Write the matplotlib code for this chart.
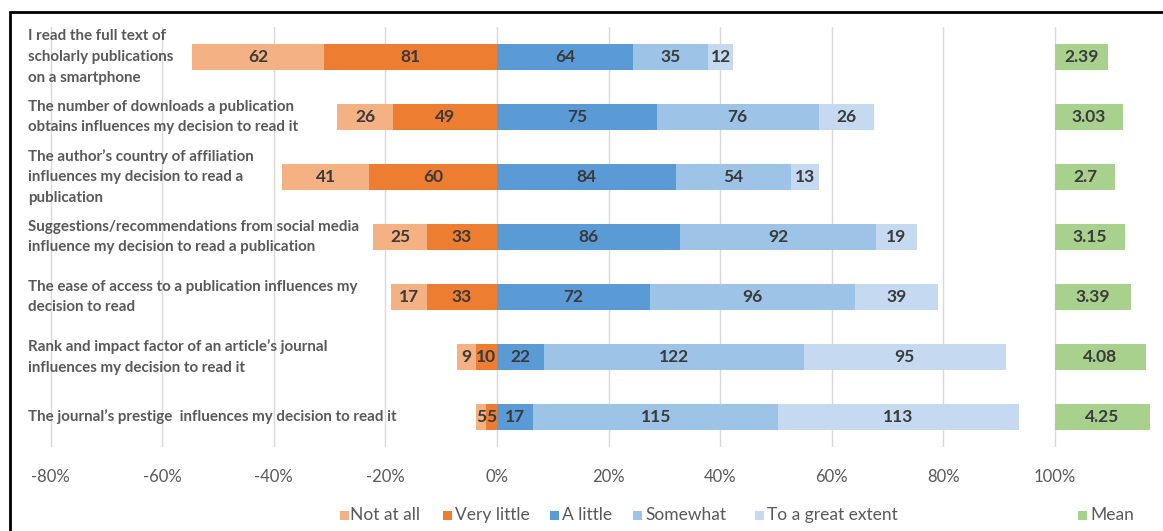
import matplotlib
matplotlib.use("Agg")
import matplotlib.pyplot as plt
from matplotlib.patches import Rectangle
from matplotlib.transforms import blended_transform_factory

plt.rcParams['font.family'] = ['Lato', 'DejaVu Sans']

statements = [
    "I read the full text of\nscholarly publications\non a smartphone",
    "The number of downloads a publication\nobtains influences my decision to read it",
    "The author\u2019s country of affiliation\ninfluences my decision to read a\npublication",
    "Suggestions/recommendations from social media\ninfluence my decision to read a publication",
    "The ease of access to a publication influences my\ndecision to read",
    "Rank and impact factor of an article\u2019s journal\ninfluences my decision to read it",
    "The journal\u2019s prestige  influences my decision to read it",
]
not_at_all = [62, 26, 41, 25, 17, 9, 5]
very_little = [81, 49, 60, 33, 33, 10, 5]
a_little = [64, 75, 84, 86, 72, 22, 17]
somewhat = [35, 76, 54, 92, 96, 122, 115]
great_extent = [12, 26, 13, 19, 39, 95, 113]
means = [2.39, 3.03, 2.7, 3.15, 3.39, 4.08, 4.25]
respondents = 262
tick_values = [-80, -60, -40, -20, 0, 20, 40, 60, 80, 100]

colors = {
    "Not at all": "#F4B183",
    "Very little": "#ED7D31",
    "A little": "#5B9BD5",
    "Somewhat": "#9DC3E6",
    "To a great extent": "#C5DAF0",
    "Mean": "#A9D18E",
}

W, H = 1163, 531
fig = plt.figure(figsize=(W / 100, H / 100), dpi=100)
ax = fig.add_axes([20 / W, 1 - 447 / H, 1140 / W, 420 / H])

pct = lambda v: 100.0 * v / respondents
bar_h = 0.43
label_color = "#3A3A3A"
rows = range(len(statements))

for i in rows:
    # negative side: "Very little" next to zero, "Not at all" further left
    v_w = pct(very_little[i])
    n_w = pct(not_at_all[i])
    segs = [
        (-v_w - n_w, n_w, not_at_all[i], "Not at all"),
        (-v_w, v_w, very_little[i], "Very little"),
    ]
    left = 0.0
    for val, name in ((a_little[i], "A little"), (somewhat[i], "Somewhat"),
                      (great_extent[i], "To a great extent")):
        segs.append((left, pct(val), val, name))
        left += pct(val)
    for start, width, val, name in segs:
        ax.barh(i, width, left=start, height=bar_h, color=colors[name], linewidth=0)
        ax.text(start + width / 2, i, str(val), ha="center", va="center",
                fontsize=12.5, fontweight="bold", color=label_color)
    # mean drawn on a 0-5 scale mapped to 20 percentage points, starting at 100%
    mw = means[i] * 4.0
    ax.barh(i, mw, left=100, height=bar_h, color=colors["Mean"], linewidth=0)
    ax.text(100 + mw / 2, i, f"{means[i]:g}", ha="center", va="center",
            fontsize=12.5, fontweight="bold", color=label_color)

ax.set_xlim((20 - 497) / 5.58, (1160 - 497) / 5.58)
ax.set_ylim(len(statements) - 0.5, -0.5)
ax.set_xticks(tick_values)
ax.set_xticklabels([f"{v}%" for v in tick_values], fontsize=12, color="#595959")
ax.tick_params(axis="x", length=0, pad=16)
ax.set_yticks([])
ax.xaxis.grid(True, color="#D9D9D9", linewidth=1)
ax.set_axisbelow(True)
for s in ax.spines.values():
    s.set_visible(False)

trans = blended_transform_factory(fig.transFigure, ax.transData)
for i, txt in enumerate(statements):
    ax.text(28 / W, i, txt, transform=trans, ha="left", va="center",
            fontsize=10.9, fontweight="bold", color="#595959", linespacing=1.6)

# legend row
legend_items = [("Not at all", 340, 350), ("Very little", 443, 455),
                ("A little", 550, 562), ("Somewhat", 633, 645),
                ("To a great extent", 755, 767), ("Mean", 1078, 1090)]
ly = 515
sq = 9
for name, xs, xt in legend_items:
    fig.patches.append(Rectangle((xs / W, 1 - (ly + sq / 2) / H), sq / W, sq / H,
                                 transform=fig.transFigure, color=colors[name],
                                 linewidth=0))
    fig.text(xt / W, 1 - ly / H, name, ha="left", va="center",
             fontsize=12.5, color="#595959")

# frame around the figure
fig.patches.append(Rectangle((10 / W, -0.2), 1.3, 1.2 - 12 / H,
                             transform=fig.transFigure, fill=False,
                             edgecolor="black", linewidth=2, clip_on=False))

fig.savefig("out.png", dpi=100, facecolor="white")
